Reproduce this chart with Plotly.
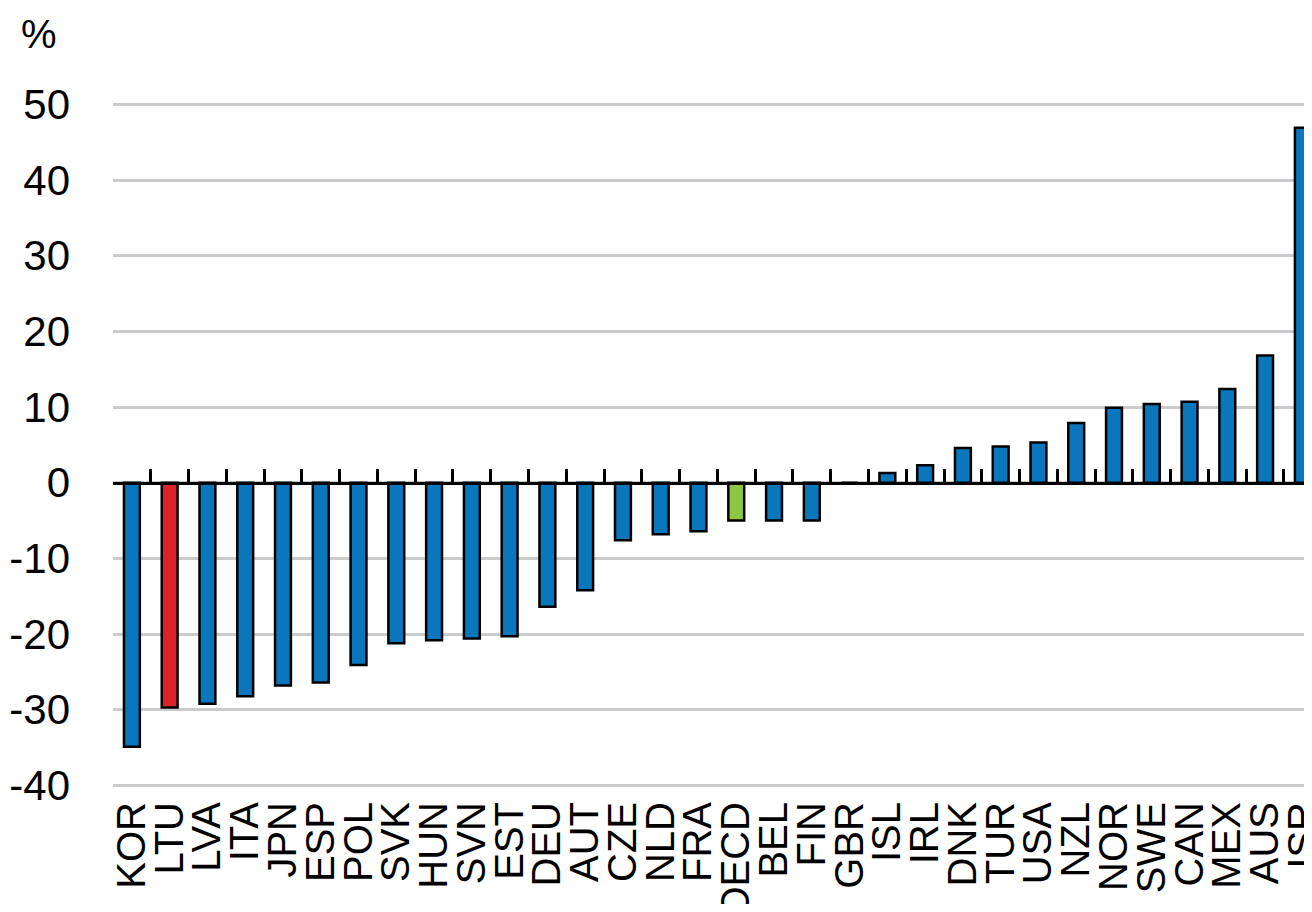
import plotly.graph_objects as go

countries = ["KOR", "LTU", "LVA", "ITA", "JPN", "ESP", "POL", "SVK", "HUN", "SVN",
             "EST", "DEU", "AUT", "CZE", "NLD", "FRA", "OECD", "BEL", "FIN", "GBR",
             "ISL", "IRL", "DNK", "TUR", "USA", "NZL", "NOR", "SWE", "CAN", "MEX",
             "AUS", "ISR"]
values = [-34.9, -29.7, -29.2, -28.2, -26.8, -26.4, -24.1, -21.2, -20.8, -20.6,
          -20.3, -16.4, -14.2, -7.6, -6.8, -6.4, -5.0, -5.0, -5.0, 0.0,
          1.3, 2.3, 4.6, 4.8, 5.3, 7.9, 9.9, 10.4, 10.7, 12.4,
          16.8, 46.9]
y_ticks = [-40, -30, -20, -10, 0, 10, 20, 30, 40, 50]

BLUE = "#0A77BD"
RED = "#DC2229"
GREEN = "#8DC63F"
colors = [RED if c == "LTU" else GREEN if c == "OECD" else BLUE for c in countries]

FONT = "Liberation Sans, Arial, sans-serif"
YMIN, YMAX = -41, 51.5
XMIN, XMAX = -0.5, 31.03
zero_pos = (0 - YMIN) / (YMAX - YMIN)

fig = go.Figure()
fig.add_trace(go.Bar(
    x=countries, y=values, width=0.42,
    marker=dict(color=colors, line=dict(color="black", width=2.5)),
    xaxis="x", yaxis="y", showlegend=False,
))
fig.add_trace(go.Scatter(
    x=countries, y=values, mode="markers", marker=dict(opacity=0),
    xaxis="x2", yaxis="y", showlegend=False, hoverinfo="skip",
))

fig.update_layout(
    width=1296, height=896,
    margin=dict(l=105, r=0, t=85, b=111),
    paper_bgcolor="white", plot_bgcolor="white",
    font=dict(family=FONT, color="black", size=40),
    xaxis=dict(
        type="category", categoryorder="array", categoryarray=countries,
        range=[XMIN, XMAX], anchor="free", position=zero_pos,
        showline=True, linecolor="black", linewidth=3,
        ticks="inside", tickson="boundaries", ticklen=13, tickwidth=3, tickcolor="black",
        showticklabels=False, showgrid=False, zeroline=False, automargin=False,
    ),
    xaxis2=dict(
        type="category", categoryorder="array", categoryarray=countries,
        range=[XMIN, XMAX], overlaying="x", anchor="y", side="bottom",
        tickmode="array", tickvals=countries, ticktext=countries,
        showline=False, ticks="", showgrid=False, zeroline=False,
        tickangle=-90, tickfont=dict(family=FONT, size=40, color="black"),
        ticklabelstandoff=0, automargin=False,
    ),
    yaxis=dict(
        range=[YMIN, YMAX], tickvals=y_ticks, ticktext=[str(v) for v in y_ticks],
        showgrid=True, gridcolor="#CBCBCB", gridwidth=2.5,
        zeroline=False, showline=False, ticks="",
        tickfont=dict(family=FONT, size=42, color="black"),
        ticklabelstandoff=42, automargin=False,
    ),
    annotations=[dict(
        text="%", xref="paper", yref="paper", x=-0.062, y=1.085,
        xanchor="center", yanchor="middle", showarrow=False,
        font=dict(family=FONT, size=40, color="black"),
    )],
)

fig.write_html("out.html")
